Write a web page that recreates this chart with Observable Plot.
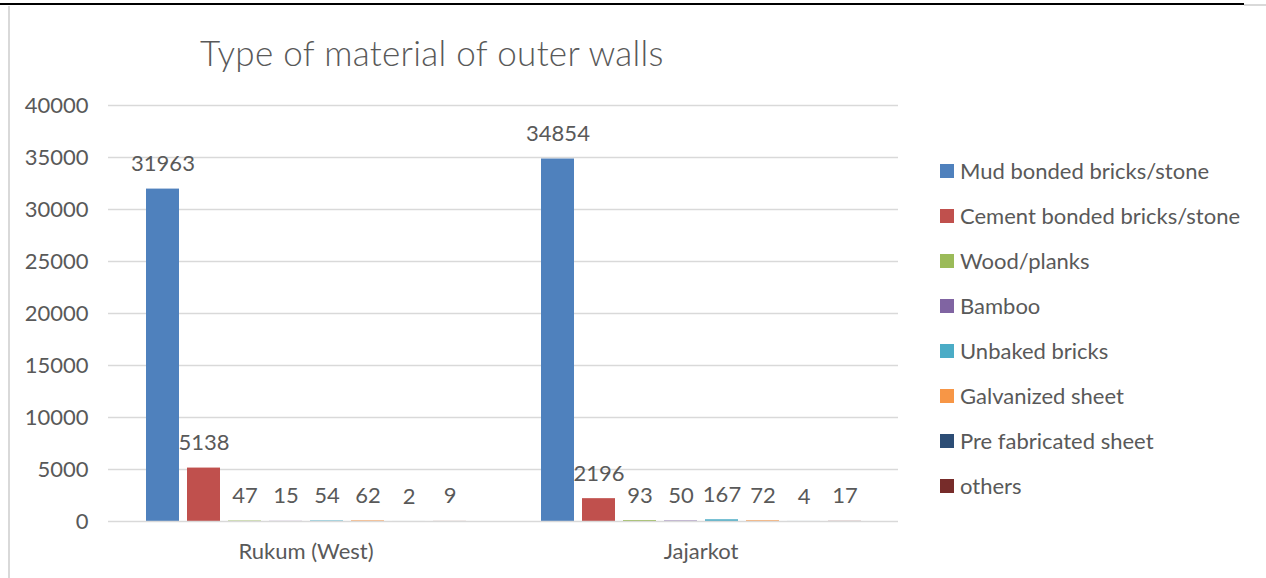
<!DOCTYPE html>
<html>
<head>
<meta charset="utf-8">
<script src="https://cdn.jsdelivr.net/npm/d3@7"></script>
<script src="https://cdn.jsdelivr.net/npm/@observablehq/plot@0.6"></script>
<style>
  html, body { margin: 0; padding: 0; background: #fff; }
  #wrap { position: relative; width: 1266px; height: 578px; overflow: hidden; font-family: Lato, "Open Sans", sans-serif; color: #595959; }
  #topline { position: absolute; left: 0; top: 3px; width: 1244px; height: 2px; background: #000; }
  #topline2 { position: absolute; left: 1244px; top: 4px; width: 22px; height: 2px; background: #d9d9d9; }
  #leftline { position: absolute; left: 8px; top: 6px; width: 2px; height: 572px; background: #d9d9d9; }
  #chart { position: absolute; left: 0; top: 0; }
  #title { position: absolute; left: 200px; top: 31px; font-size: 35px; font-weight: 300; white-space: nowrap; letter-spacing: 0.3px; }
  #legend { position: absolute; left: 940px; top: 148px; }
  .row { height: 45px; display: flex; align-items: center; font-size: 22px; white-space: nowrap; }
  .sw { width: 14px; height: 14px; margin-right: 6px; flex: none; }
</style>
</head>
<body>
<div id="wrap">
  <div id="topline"></div>
  <div id="topline2"></div>
  <div id="leftline"></div>
  <div id="chart"></div>
  <div id="title">Type of material of outer walls</div>
  <div id="legend"></div>
</div>
<script>
const districts = ["Rukum (West)", "Jajarkot"];
const materials = [
  "Mud bonded bricks/stone",
  "Cement bonded bricks/stone",
  "Wood/planks",
  "Bamboo",
  "Unbaked bricks",
  "Galvanized sheet",
  "Pre fabricated sheet",
  "others"
];
const rukumValues = [31963, 5138, 47, 15, 54, 62, 2, 9];
const jajarkotValues = [34854, 2196, 93, 50, 167, 72, 4, 17];
const colors = ["#4F81BD", "#C0504D", "#9BBB59", "#8064A2", "#4BACC6", "#F79646", "#2C4D75", "#772C2A"];
const yTicks = [0, 5000, 10000, 15000, 20000, 25000, 30000, 35000, 40000];

const seriesByDistrict = [rukumValues, jajarkotValues];
const rows = [];
districts.forEach((d, i) => {
  materials.forEach((m, j) => {
    rows.push({district: d, material: m, value: seriesByDistrict[i][j]});
  });
});

const chart = Plot.plot({
  width: 1266,
  height: 578,
  marginLeft: 108,
  marginRight: 368,
  marginTop: 105,
  marginBottom: 57,
  style: {fontFamily: "Lato, 'Open Sans', sans-serif", fontSize: "22px", color: "#595959", background: "transparent", overflow: "visible"},
  fx: {domain: districts, padding: 0, label: null},
  x: {domain: materials, paddingInner: 0.2, paddingOuter: 0.88, axis: null},
  y: {domain: [0, 40000], label: null},
  color: {domain: materials, range: colors},
  marks: [
    Plot.ruleY(yTicks.filter(t => t > 0), {stroke: "#d9d9d9", strokeWidth: 1.3}),
    Plot.barY(rows, {fx: "district", x: "material", y: "value", fill: "material"}),
    Plot.ruleY([0], {stroke: "#d9d9d9", strokeWidth: 1.3}),
    Plot.text(rows, {fx: "district", x: "material", y: "value", text: d => String(d.value), dy: -25, fill: "#595959", fontSize: 22}),
    Plot.axisY(yTicks, {tickSize: 0, tickPadding: 20, tickFormat: d => String(d), fill: "#595959", fontSize: 22, label: null}),
    Plot.axisFx({anchor: "bottom", tickSize: 0, tickPadding: 22, fill: "#595959", fontSize: 22, label: null})
  ]
});
document.getElementById("chart").appendChild(chart);

const legend = document.getElementById("legend");
materials.forEach((m, i) => {
  const row = document.createElement("div");
  row.className = "row";
  const sw = document.createElement("span");
  sw.className = "sw";
  sw.style.background = colors[i];
  const t = document.createElement("span");
  t.textContent = m;
  row.appendChild(sw);
  row.appendChild(t);
  legend.appendChild(row);
});
</script>
</body>
</html>
